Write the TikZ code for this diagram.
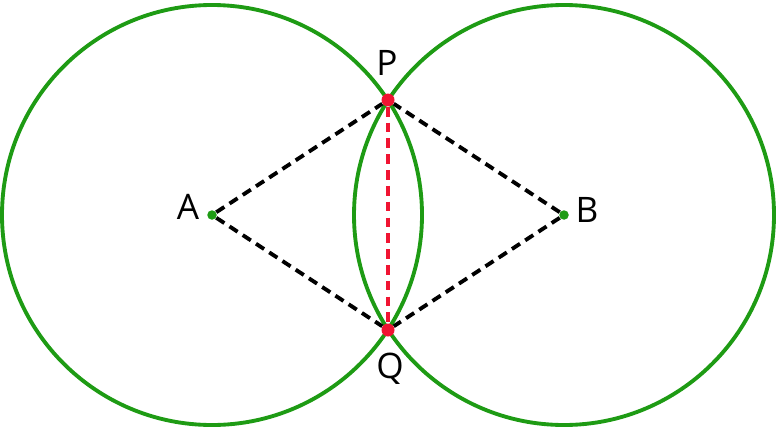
\documentclass[tikz,border=0pt]{standalone}
\usepackage{fontspec}
\setmainfont{Open Sans}
\usetikzlibrary{backgrounds}
\definecolor{ringgreen}{RGB}{30,155,20}
\definecolor{ptred}{RGB}{240,20,50}
\begin{document}
\begin{tikzpicture}[x=0.02cm, y=0.02cm,
  ring/.style={draw=ringgreen, line width=2.2pt},
  chord/.style={line width=2.2pt, dash pattern=on 5.5pt off 3.5pt},
  lbl/.style={font=\fontsize{20}{24}\selectfont}]
\useasboundingbox (0,0) rectangle (776,430);
\node[circle, inner sep=0pt, minimum size=0.19cm, fill=ringgreen] (A) at (212,215){};
\node[circle, inner sep=0pt, minimum size=0.19cm, fill=ringgreen] (B) at (564,215){};
\node[circle, inner sep=0pt, minimum size=0.26cm, fill=ptred] (P) at (388,330){};
\node[circle, inner sep=0pt, minimum size=0.26cm, fill=ptred] (Q) at (388,100){};
\begin{scope}[on background layer]
\draw[ring] (A.center) circle (210);
\draw[ring] (B.center) circle (210);
\draw[chord](A) -- (P);
\draw[chord](A) -- (Q);
\draw[chord](B) -- (P);
\draw[chord](B) -- (Q);
\draw[chord, ptred](P) -- (Q);
\end{scope}
\node[lbl] (lA) at (188,223){A};
\node[lbl] (lB) at (587,220){B};
\node[lbl] (lP) at (387,367){P};
\node[lbl] (lQ) at (390,61){Q};

\end{tikzpicture}
\end{document}
